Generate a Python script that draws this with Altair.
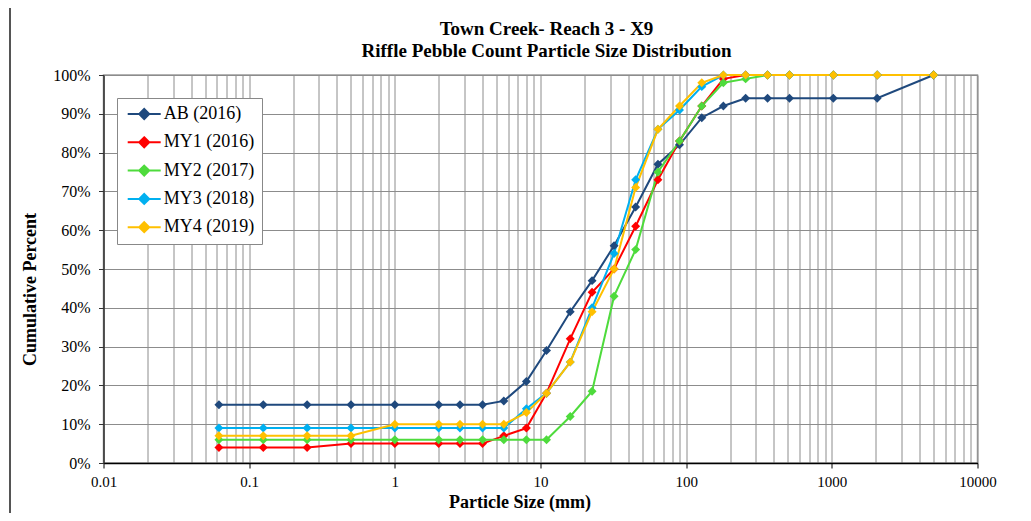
import altair as alt
import pandas as pd

# Particle size classes (mm)
sizes = [0.062, 0.125, 0.25, 0.5, 1, 2, 2.8, 4, 5.6, 8, 11, 16, 22.6, 32, 45,
         64, 90, 128, 180, 256, 362, 512, 1024, 2048, 5000]

series_names = ["AB (2016)", "MY1 (2016)", "MY2 (2017)", "MY3 (2018)", "MY4 (2019)"]
series_colors = ["#1F497D", "#FF0000", "#4EDB3C", "#00B0F0", "#FFC000"]

ab_2016 = [15, 15, 15, 15, 15, 15, 15, 15, 16, 21, 29, 39, 47, 56, 66,
           77, 82, 89, 92, 94, 94, 94, 94, 94, 100]
my1_2016 = [4, 4, 4, 5, 5, 5, 5, 5, 7, 9, 18, 32, 44, 50, 61,
            73, 83, 92, 99, 100, 100, 100, 100, 100, 100]
my2_2017 = [6, 6, 6, 6, 6, 6, 6, 6, 6, 6, 6, 12, 18.5, 43, 55,
            75, 83, 92, 98, 99, 100, 100, 100, 100, 100]
my3_2018 = [9, 9, 9, 9, 9, 9, 9, 9, 9, 14, 18, 26, 40, 54, 73,
            86, 91, 97, 100, 100, 100, 100, 100, 100, 100]
my4_2019 = [7, 7, 7, 7, 10, 10, 10, 10, 10, 13, 18, 26, 39, 50, 71,
            86, 92, 98, 100, 100, 100, 100, 100, 100, 100]

x_major_ticks = [0.01, 0.1, 1, 10, 100, 1000, 10000]
x_grid_values = [0.01, 0.02, 0.03, 0.04, 0.05, 0.06, 0.07, 0.08, 0.09,
                 0.1, 0.2, 0.3, 0.4, 0.5, 0.6, 0.7, 0.8, 0.9,
                 1, 2, 3, 4, 5, 6, 7, 8, 9,
                 10, 20, 30, 40, 50, 60, 70, 80, 90,
                 100, 200, 300, 400, 500, 600, 700, 800, 900,
                 1000, 2000, 3000, 4000, 5000, 6000, 7000, 8000, 9000, 10000]
y_ticks = [0, 10, 20, 30, 40, 50, 60, 70, 80, 90, 100]

rows = []
for name, vals in zip(series_names, [ab_2016, my1_2016, my2_2017, my3_2018, my4_2019]):
    for s, v in zip(sizes, vals):
        rows.append({"size": s, "pct": v, "series": name})
df = pd.DataFrame(rows)

SERIF = "Liberation Serif"
W, H = 874, 388

xscale = alt.Scale(type="log", domain=[0.01, 10000], nice=False)
yscale = alt.Scale(domain=[0, 100], nice=False)
cscale = alt.Scale(domain=series_names, range=series_colors)

y_axis = alt.Axis(values=y_ticks, labelExpr="datum.value + '%'",
                  grid=True, gridColor="#8c8c8c", gridWidth=1,
                  ticks=True, tickSize=5, tickColor="#333",
                  domainColor="#333", domainWidth=1.5,
                  labelFont=SERIF, labelFontSize=16, labelColor="black",
                  labelPadding=8.5,
                  title="Cumulative Percent", titleFont=SERIF,
                  titleFontSize=18, titleFontWeight="bold", titleColor="black",
                  titleX=-73.5, titleY=214, titleAngle=-90,
                  titleAlign="center", titleBaseline="middle")

# legend symbol: a short line with a (stroke-filled) diamond in its middle
legend_symbol = ("M-0.883,0L4.617,0"
                 "M1.867,-0.833L2.7,0L1.867,0.833L1.034,0Z"
                 "M1.867,-0.417L2.284,0L1.867,0.417L1.45,0Z")
legend = alt.Legend(
    orient="none", legendX=13.5, legendY=23, title=None,
    symbolType=legend_symbol, symbolSize=144, symbolStrokeWidth=2,
    labelFont=SERIF, labelFontSize=18, labelColor="black", labelOffset=21.7,
    fillColor="white", strokeColor="#888888", padding=7,
    rowPadding=10.3,
)

lines = alt.Chart(df).mark_line(strokeWidth=2).encode(
    x=alt.X("size:Q", scale=xscale,
            axis=alt.Axis(orient="bottom", values=x_major_ticks, format="~g",
                          grid=False, ticks=True, tickSize=5, tickColor="#000",
                          domainColor="#000", domainWidth=1.5,
                          labelFont=SERIF, labelFontSize=15, labelColor="black",
                          labelPadding=6, labelFlush=False,
                          title="Particle Size (mm)", titleFont=SERIF,
                          titleFontSize=18, titleFontWeight="bold", titleColor="black",
                          titleX=W / 2 - 21, titleY=39, titleBaseline="middle")),
    y=alt.Y("pct:Q", scale=yscale, axis=y_axis),
    color=alt.Color("series:N", scale=cscale, legend=legend),
)

points = alt.Chart(df).mark_point(shape="diamond", size=80, filled=True,
                                   opacity=1).encode(
    x=alt.X("size:Q", scale=xscale,
            axis=alt.Axis(orient="top", values=x_grid_values, grid=True,
                          gridColor="#8c8c8c", gridWidth=1, labels=False,
                          ticks=False, domain=False, title=None)),
    y=alt.Y("pct:Q", scale=yscale, axis=y_axis),
    color=alt.Color("series:N", scale=cscale, legend=legend),
)

border = alt.Chart(df).mark_rule(color="#555555", strokeWidth=2).encode(
    x=alt.value(-93.5), y=alt.value(-67), y2=alt.value(446)
)

chart = alt.layer(border, lines, points).properties(
    width=W, height=H,
    autosize=alt.AutoSizeParams(type="none"),
    padding={"left": 95.5, "top": 67, "right": 25, "bottom": 50},
    title=alt.Title(
        ["Town Creek- Reach 3 - X9", "Riffle Pebble Count Particle Size Distribution"],
        font=SERIF, fontSize=19, fontWeight="bold", color="black",
        anchor="middle", frame="group", offset=-54, lineHeight=22, dx=6,
    ),
).configure_view(stroke="#9a9a9a", strokeWidth=1.5)

chart.save("out.html", embed_options={"renderer": "svg", "actions": False})
